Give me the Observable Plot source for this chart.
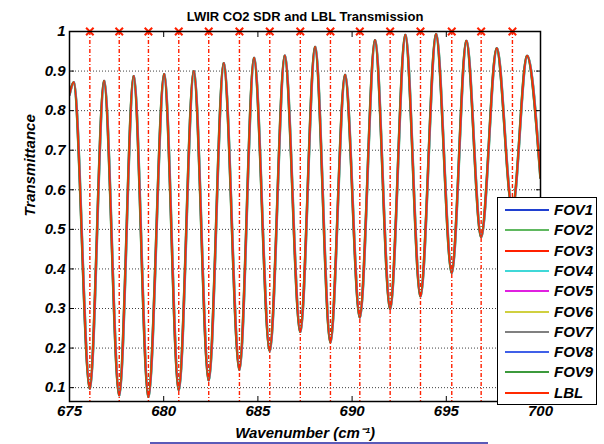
<!DOCTYPE html>
<html><head><meta charset="utf-8">
<script src="https://cdn.jsdelivr.net/npm/d3@7"></script>
<script src="https://cdn.jsdelivr.net/npm/@observablehq/plot@0.6"></script>
<style>
body{margin:0;background:#fff;}
#wrap{position:relative;width:604px;height:444px;overflow:hidden;font-family:"Liberation Sans",Arial,sans-serif;background:#fff;}
#legend{position:absolute;left:497px;top:197px;width:100px;height:208px;border:1px solid #000;background:#fff;box-sizing:border-box;}
#legend .row{position:absolute;left:0;height:20px;width:98px;}
#legend .sw{position:absolute;left:7px;top:9px;width:44px;height:0;border-top:2px solid;}
#legend .lb{position:absolute;left:56px;top:1px;font:italic bold 15px "Liberation Sans",Arial,sans-serif;color:#000;}
#blueline{position:absolute;left:150px;top:442px;width:338px;height:0;border-top:2px solid #5a5ab8;}
</style></head><body><div id="wrap"></div>
<script>
// Line centres (red dash-dot markers), cm^-1
const lineCenters = [676.08, 677.64, 679.19, 680.80, 682.39, 684.02, 685.63, 687.25, 688.85, 690.41, 692.02, 693.63, 695.29, 696.85, 698.51];
// Transmittance at the line centres (minima)
const minY = [0.097, 0.080, 0.076, 0.093, 0.118, 0.145, 0.192, 0.240, 0.214, 0.277, 0.298, 0.330, 0.390, 0.480, 0.550];
// Maxima between lines
const peakX = [675.23, 676.84, 678.41, 680.03, 681.60, 683.19, 684.80, 686.43, 688.04, 689.63, 691.22, 692.83, 694.46, 696.07, 697.68, 699.29];
const peakY = [0.872, 0.876, 0.888, 0.893, 0.901, 0.921, 0.934, 0.940, 0.962, 0.891, 0.979, 0.992, 0.994, 0.977, 0.958, 0.939];
// Values at the plot edges
const edgeX = [675.0, 700.0];
const edgeY = [0.840, 0.630];

const seriesNames = ["FOV1","FOV2","FOV3","FOV4","FOV5","FOV6","FOV7","FOV8","FOV9","LBL"];
const seriesColors = ["#2040d0","#60b860","#ff2000","#40d8d8","#e020e0","#d0d040","#808080","#4060e8","#3c9a3c","#ff2a00"];
// small spectral offset of each FOV relative to LBL (cm^-1)
const seriesShift = [0.020, -0.030, 0.010, 0.030, -0.020, 0.025, -0.010, 0.015, -0.025, 0.0];

const xTicks = [675, 680, 685, 690, 695, 700];
const yTicks = [0.1, 0.2, 0.3, 0.4, 0.5, 0.6, 0.7, 0.8, 0.9, 1];

const base = [];
edgeX.forEach((x, i) => base.push({x, y: edgeY[i]}));
peakX.forEach((x, i) => base.push({x, y: peakY[i]}));
lineCenters.forEach((x, i) => base.push({x, y: minY[i]}));
base.sort((a, b) => a.x - b.x);

const rows = [];
seriesNames.forEach((s, k) => base.forEach(p => rows.push({series: s, x: p.x + seriesShift[k], y: p.y})));

const font = {fontSize: 15, fontWeight: "bold", fontStyle: "italic", fill: "#000"};
const yFmt = d => d === 1 ? "1" : d3.format(".1f")(d);

const chart = Plot.plot({
  width: 604, height: 444,
  marginLeft: 69, marginRight: 64, marginTop: 31, marginBottom: 43,
  x: {domain: [675, 700]},
  y: {domain: [0.065, 1]},
  color: {domain: seriesNames, range: seriesColors},
  style: {fontFamily: "Liberation Sans, Arial, sans-serif", background: "white", overflow: "visible"},
  marks: [
    Plot.gridY(yTicks, {stroke: "#000", strokeOpacity: 0.75, strokeDasharray: "1,2"}),
    Plot.line(rows, {x: "x", y: "y", z: "series", stroke: "series", strokeWidth: 1.6, curve: "monotone-x", clip: true}),
    Plot.ruleX(lineCenters, {stroke: "#ff2000", strokeWidth: 1.4, strokeDasharray: "4,2,1,2"}),
    Plot.dot(lineCenters, {x: d => d, y: 1, symbol: "times", r: 3.5, stroke: "#ff2000", strokeWidth: 2}),
    Plot.frame({stroke: "#000", strokeWidth: 1.5}),
    Plot.axisX(xTicks, {anchor: "bottom", tickSize: 0, tickPadding: 4, tickFormat: d => String(d), ...font, label: null}),
    Plot.axisX(xTicks, {anchor: "bottom", tickSize: 5, dy: -5, text: null, label: null}),
    Plot.axisX(xTicks, {anchor: "top", tickSize: 5, dy: 5, text: null, label: null}),
    Plot.axisY(yTicks, {anchor: "left", tickSize: 0, tickPadding: 4, tickFormat: yFmt, ...font, label: null}),
    Plot.axisY(yTicks, {anchor: "left", tickSize: 5, dx: 5, text: null, label: null}),
    Plot.axisY(yTicks, {anchor: "right", tickSize: 5, dx: -5, text: null, label: null}),
    Plot.text(["LWIR CO2 SDR and LBL Transmission"], {frameAnchor: "top", dy: -20, fontSize: 13, fontWeight: "bold", fill: "#000"}),
    Plot.text(["Transmittance"], {frameAnchor: "left", dx: -39, rotate: -90, ...font}),
    Plot.text(["Wavenumber (cm\u207B\u00B9)"], {frameAnchor: "bottom", dy: 36, ...font})
  ]
});

const wrap = document.getElementById("wrap");
wrap.appendChild(chart);

const legend = document.createElement("div");
legend.id = "legend";
seriesNames.forEach((s, i) => {
  const row = document.createElement("div");
  row.className = "row";
  row.style.top = (2 + i * 20.3) + "px";
  const sw = document.createElement("div");
  sw.className = "sw";
  sw.style.borderTopColor = seriesColors[i];
  const lb = document.createElement("div");
  lb.className = "lb";
  lb.textContent = s;
  row.appendChild(sw); row.appendChild(lb);
  legend.appendChild(row);
});
wrap.appendChild(legend);
const bl = document.createElement("div");
bl.id = "blueline";
wrap.appendChild(bl);
</script>
</body></html>
